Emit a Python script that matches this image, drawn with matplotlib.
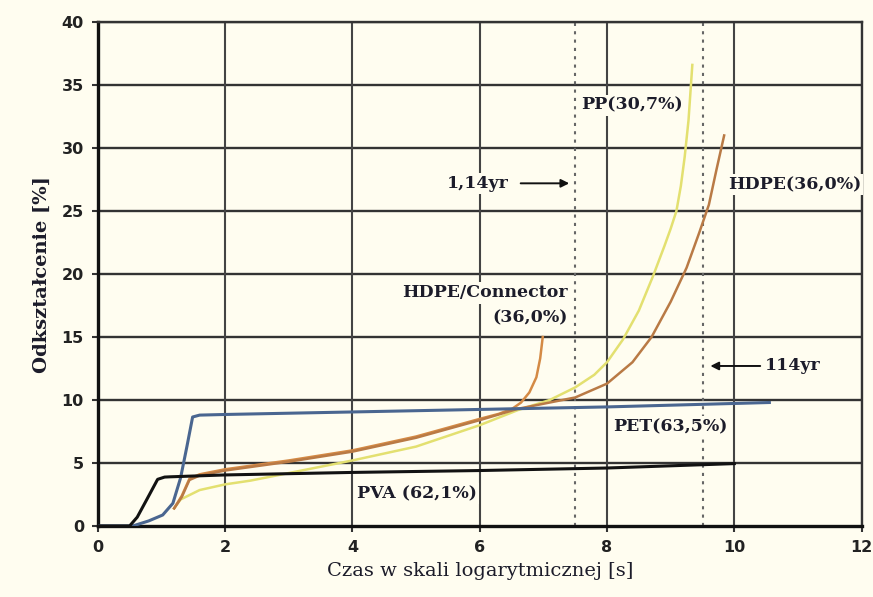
import numpy as np
import matplotlib
matplotlib.use("Agg")
import matplotlib.pyplot as plt

# curves: x = log time, y = strain [%]
pva_x = [0, 0.5, 0.62, 0.77, 0.94, 1.05, 1.13, 2.0, 4.0, 6.0, 8.0, 10.0]
pva_y = [0, 0, 0.7, 2.1, 3.7, 3.88, 3.9, 4.05, 4.25, 4.4, 4.6, 4.95]

pet_x = [0, 0.55, 0.8, 1.02, 1.18, 1.3, 1.4, 1.49, 1.6, 2.0, 4.0, 6.0, 8.0, 10.55]
pet_y = [0, 0, 0.4, 0.87, 1.8, 3.8, 6.3, 8.65, 8.8, 8.85, 9.05, 9.25, 9.45, 9.8]

hdpe_x = [1.2, 1.32, 1.44, 1.6, 2.0, 3.0, 4.0, 5.0, 6.0, 6.6, 7.0, 7.5, 8.0, 8.4,
          8.7, 9.0, 9.25, 9.45, 9.6, 9.72, 9.84]
hdpe_y = [1.4, 2.3, 3.65, 4.0, 4.4, 5.1, 5.9, 7.0, 8.4, 9.3, 9.7, 10.2, 11.3, 13.0,
          15.0, 17.8, 20.5, 23.3, 25.5, 28.3, 31.0]

pp_x = [1.2, 1.3, 1.6, 2.0, 2.4, 3.0, 4.0, 5.0, 6.0, 6.6, 7.1, 7.5, 7.8, 8.0, 8.25,
        8.5, 8.72, 8.9, 9.0, 9.09, 9.16, 9.22, 9.28, 9.34]
pp_y = [1.4, 2.1, 2.85, 3.3, 3.6, 4.2, 5.2, 6.3, 8.0, 9.2, 10.0, 11.0, 12.0, 13.0, 14.8,
        17.1, 19.8, 22.2, 23.6, 25.0, 27.0, 29.3, 32.2, 36.6]

conn_x = [1.2, 1.32, 1.44, 1.6, 2.0, 3.0, 4.0, 5.0, 6.0, 6.3, 6.51, 6.65, 6.78, 6.89, 6.95, 6.99]
conn_y = [1.4, 2.4, 3.75, 4.1, 4.5, 5.2, 6.0, 7.1, 8.5, 8.9, 9.3, 9.8, 10.6, 11.8, 13.3, 15.0]

x_ticks = [0, 2, 4, 6, 8, 10, 12]
y_ticks = [0, 5, 10, 15, 20, 25, 30, 35, 40]
marker_lines = [7.5, 9.5]  # 1,14yr and 114yr

BG = "#fffdf0"
INK = "#1c1c2a"

fig = plt.figure(figsize=(8.73, 5.97), dpi=100, facecolor=BG)
ax = fig.add_axes([0.112, 0.119, 0.875, 0.844], facecolor=BG)

# grid
for yv in y_ticks[1:]:
    ax.axhline(yv, color="#333333", lw=1.7, zorder=1)
for xv in x_ticks[1:]:
    ax.axvline(xv, color="#444444", lw=1.5, zorder=1)
for xv in marker_lines:
    ax.axvline(xv, color="#666666", lw=1.5, ls=(0, (1.5, 2.5)), zorder=1)

ax.plot(pp_x, pp_y, color="#e3e070", lw=1.8, zorder=3)
ax.plot(conn_x, conn_y, color="#d48a45", lw=1.8, zorder=3)
ax.plot(hdpe_x, hdpe_y, color="#b97a45", lw=1.8, zorder=3)
ax.plot(pet_x, pet_y, color="#4a6690", lw=2.2, zorder=4)
ax.plot(pva_x, pva_y, color="#121212", lw=2.2, zorder=4)

ax.set_xlim(0, 12)
ax.set_ylim(0, 40)
ax.set_xticks(x_ticks)
ax.set_yticks(y_ticks)
ax.tick_params(length=4, width=1.5, color="#333333", labelsize=11.5, pad=6,
               labelcolor="#222222")
for lab in ax.get_xticklabels() + ax.get_yticklabels():
    lab.set_fontweight("bold")
for side in ["left", "bottom"]:
    ax.spines[side].set_linewidth(2.4)
    ax.spines[side].set_color("#111111")
for side in ["top", "right"]:
    ax.spines[side].set_linewidth(1.7)
    ax.spines[side].set_color("#333333")

ax.set_xlabel("Czas w skali logarytmicznej [s]", family="DejaVu Serif",
              fontsize=14, color=INK, labelpad=5)
ax.set_ylabel("Odkształcenie [%]", family="DejaVu Serif", fontsize=14,
              fontweight="bold", color=INK, labelpad=8)

lab_kw = dict(family="DejaVu Serif", fontweight="bold", fontsize=12.5, color=INK,
              zorder=5, bbox=dict(facecolor=BG, edgecolor="none", pad=1.5))

ax.text(7.6, 33.4, "PP(30,7%)", ha="left", va="center", **lab_kw)
ax.text(9.9, 27.1, "HDPE(36,0%)", ha="left", va="center", **lab_kw)
ax.text(7.38, 18.5, "HDPE/Connector", ha="right", va="center", **lab_kw)
ax.text(7.38, 16.5, "(36,0%)", ha="right", va="center", **lab_kw)
ax.text(8.1, 7.85, "PET(63,5%)", ha="left", va="center", **lab_kw)
ax.text(4.08, 2.55, "PVA (62,1%)", ha="left", va="center", **lab_kw)
ax.text(6.45, 27.2, "1,14yr", ha="right", va="center", **lab_kw)
ax.text(10.48, 12.7, "114yr", ha="left", va="center", **lab_kw)

ax.annotate("", xy=(7.45, 27.2), xytext=(6.6, 27.2),
            arrowprops=dict(arrowstyle="-|>", color="#111111", lw=1.4,
                            mutation_scale=12), zorder=5)
ax.annotate("", xy=(9.58, 12.7), xytext=(10.45, 12.7),
            arrowprops=dict(arrowstyle="-|>", color="#111111", lw=1.4,
                            mutation_scale=12), zorder=5)

fig.savefig("out.png", dpi=100, facecolor=BG)
